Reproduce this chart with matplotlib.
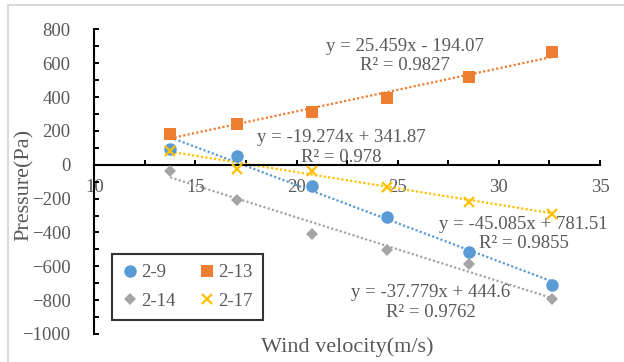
import numpy as np
import matplotlib
matplotlib.use("Agg")
import matplotlib.pyplot as plt
from matplotlib.lines import Line2D
from matplotlib.ticker import MultipleLocator

# 풍속 (m/s)
velocity = [13.75, 17.05, 20.78, 24.47, 28.5, 32.64]

# 측점별 압력 (Pa)
p_2_9 = [90, 49, -128, -311, -517, -713]
p_2_13 = [179, 239, 309, 392, 516, 664]
p_2_14 = [-40, -211, -408, -506, -585, -792]
p_2_17 = [79, -24, -40, -134, -221, -290]

series_names = ["2-9", "2-13", "2-14", "2-17"]

# 추세선 (그림의 수식에서 읽은 값)
slopes = [-45.085, 25.459, -37.779, -19.274]
intercepts = [781.51, -194.07, 444.6, 341.87]
r2_values = ["0.9855", "0.9827", "0.9762", "0.978"]

x_ticks = [10, 15, 20, 25, 30, 35]
y_ticks = [-1000, -800, -600, -400, -200, 0, 200, 400, 600, 800]

colors = ["#5B9BD5", "#ED7D31", "#A5A5A5", "#FFC000"]
markers = ["o", "s", "D", "x"]
msizes = [9, 8.5, 6.5, 7.5]
label_pos = [(31.23, -409), (25.35, 643), (26.64, -813), (22.19, 102)]

text_gray = "#595959"
plt.rcParams["font.family"] = ["Liberation Serif", "DejaVu Serif"]

fig = plt.figure(figsize=(6.24, 3.62), dpi=100)
ax = fig.add_axes([94.3 / 624, 1 - 334 / 362, (600 - 94.3) / 624, (334 - 29.3) / 362])

all_series = [p_2_9, p_2_13, p_2_14, p_2_17]
handles = []
for name, vals, c, m, ms in zip(series_names, all_series, colors, markers, msizes):
    if m == "x":
        h, = ax.plot(velocity, vals, linestyle="none", marker=m, ms=ms, mew=1.6,
                     color=c, label=name, zorder=3)
    else:
        h, = ax.plot(velocity, vals, linestyle="none", marker=m, ms=ms, mew=0,
                     color=c, label=name, zorder=3)
    handles.append(h)

# 점선 추세선
xs = np.array([min(velocity), max(velocity)])
for k, c, b in zip(slopes, colors, intercepts):
    ax.plot(xs, k * xs + b, linestyle=(0, (1, 1)), lw=1.6, color=c, zorder=2)

# 수식 라벨
for k, b, r2, (tx, ty) in zip(slopes, intercepts, r2_values, label_pos):
    sign = "+" if b >= 0 else "-"
    eq = f"y = {k:g}x {sign} {abs(b):g}\nR\u00b2 = {r2}"
    ax.text(tx, ty, eq, ha="center", va="center", fontsize=13.5, color=text_gray,
            linespacing=1.2, zorder=4)

ax.set_xlim(10, 35)
ax.set_ylim(-1000, 800)
ax.set_xticks(x_ticks)
ax.set_yticks(y_ticks)
ax.xaxis.set_minor_locator(MultipleLocator(2.5))
ax.yaxis.set_minor_locator(MultipleLocator(100))
ax.spines["top"].set_visible(False)
ax.spines["right"].set_visible(False)
ax.spines["bottom"].set_position(("data", 0))
for s in ["left", "bottom"]:
    ax.spines[s].set_linewidth(1.5)
ax.tick_params(which="both", direction="in", length=3.8, width=1.4, color="black")
ax.tick_params(axis="x", which="major", pad=10, labelsize=13.5, labelcolor=text_gray)
ax.tick_params(axis="y", which="major", pad=17, labelsize=13.5, labelcolor=text_gray)

ax.set_xlabel("Wind velocity(m/s)", fontsize=16, color=text_gray)
ax.set_ylabel("Pressure(Pa)", fontsize=16, color=text_gray)
ax.xaxis.set_label_coords(0.5, -0.01)
ax.yaxis.set_label_coords(-0.119, 0.49)

# 범례: 행 단위 순서 (2-9, 2-13 / 2-14, 2-17)
order = [0, 2, 1, 3]
leg = ax.legend([handles[i] for i in order], [series_names[i] for i in order],
                ncol=2, loc="lower left", bbox_to_anchor=(112 / 624, 1 - 320 / 362),
                bbox_transform=fig.transFigure, fontsize=13.5, frameon=True,
                fancybox=False, edgecolor="black", handlelength=0.8,
                handletextpad=0.2, columnspacing=1.3, labelspacing=0.6,
                borderpad=0.55, borderaxespad=0)
leg.get_frame().set_linewidth(1.5)
for t in leg.get_texts():
    t.set_color(text_gray)

# 차트 영역 테두리
fig.add_artist(Line2D([8 / 624, 8 / 624, 1.0], [0.0, 1 - 5 / 362, 1 - 5 / 362],
                      transform=fig.transFigure, color="#D9D9D9", lw=1.5))

fig.savefig("out.png", dpi=100)
